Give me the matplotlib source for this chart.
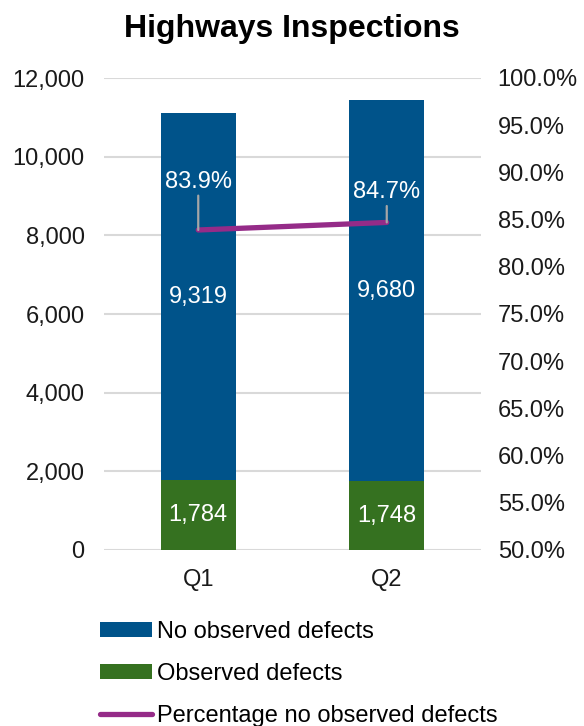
import matplotlib
matplotlib.use("Agg")
import matplotlib.pyplot as plt
from matplotlib.ticker import FuncFormatter, MultipleLocator

plt.rcParams['font.family'] = ['Liberation Sans', 'DejaVu Sans']

quarters = ["Q1", "Q2"]
observed = [1784, 1748]
no_observed = [9319, 9680]
pct_no_observed = [83.9, 84.7]

BLUE = "#00538A"
GREEN = "#357120"
PURPLE = "#952B88"
GRID = "#D9D9D9"
FS = 17

fig = plt.figure(figsize=(5.84, 7.26), dpi=100)
ax = fig.add_axes([104 / 584, 1 - 550 / 726, 377 / 584, 472 / 726])
ax2 = ax.twinx()

x = list(range(len(quarters)))
width = 0.40
b1 = ax.bar(x, no_observed, width, bottom=observed, color=BLUE,
            label="No observed defects", zorder=2)
b2 = ax.bar(x, observed, width, color=GREEN, label="Observed defects", zorder=2)

for xi, v, b in zip(x, no_observed, observed):
    ax.text(xi, b + v / 2, f"{v:,}", ha="center", va="center",
            color="white", fontsize=FS, zorder=3)
for xi, v in zip(x, observed):
    ax.text(xi, v / 2, f"{v:,}", ha="center", va="center",
            color="white", fontsize=FS, zorder=3)

ax.set_xlim(-0.5, 1.5)
ax.set_ylim(0, 12000)
ax.yaxis.set_major_locator(MultipleLocator(2000))
ax.yaxis.set_major_formatter(FuncFormatter(lambda v, p: f"{v:,.0f}"))
ax.set_xticks(x)
ax.set_xticklabels(quarters)
ax.grid(axis="y", color=GRID, linewidth=1.5, zorder=0)
ax.set_axisbelow(True)
ax.tick_params(axis="y", length=0, labelsize=FS, pad=14, labelcolor="#1a1a1a")
ax.tick_params(axis="x", length=0, labelsize=FS, pad=14, labelcolor="#1a1a1a")
for s in ax.spines.values():
    s.set_visible(False)

ln, = ax2.plot(x, pct_no_observed, color=PURPLE, linewidth=3.8,
               solid_capstyle="round", label="Percentage no observed defects",
               zorder=4)
ax2.set_ylim(50, 100)
ax2.yaxis.set_major_locator(MultipleLocator(5))
ax2.yaxis.set_major_formatter(FuncFormatter(lambda v, p: f"{v:.1f}%"))
ax2.tick_params(axis="y", length=0, labelsize=FS, pad=12, labelcolor="#1a1a1a")
for s in ax2.spines.values():
    s.set_visible(False)

label_offsets = [5.1, 3.2]
for xi, v, off in zip(x, pct_no_observed, label_offsets):
    ax2.annotate(f"{v:.1f}%", xy=(xi, v), xytext=(xi, v + off),
                 ha="center", va="center", color="white", fontsize=FS,
                 arrowprops=dict(arrowstyle="-", color="#A6A6A6", lw=1.6,
                                 shrinkA=0, shrinkB=0),
                 zorder=5)

fig.suptitle("Highways Inspections", fontsize=23, fontweight="bold",
             y=1 - 29 / 726, va="center")

fig.legend(handles=[b1, b2, ln], loc="upper left",
           bbox_to_anchor=(100 / 584, 1 - 621 / 726), frameon=False,
           fontsize=FS, handlelength=2.2, handleheight=0.6,
           handletextpad=0.2, labelspacing=0.84, borderpad=0,
           borderaxespad=0)

fig.savefig("out.png", dpi=100)
